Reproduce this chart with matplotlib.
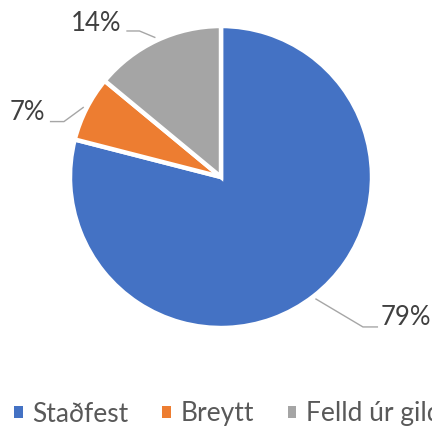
import numpy as np
import matplotlib.pyplot as plt
from matplotlib.patches import Patch

CATEGORIES = ["Staðfest", "Breytt", "Felld úr gildi"]
SHARES = [79, 7, 14]
COLORS = ["#4472C4", "#ED7D31", "#A5A5A5"]

# label layout (data units, pie radius = 1): text centre, elbow of leader line
LABEL_POS = [(1.225, -0.93), (-1.285, 0.43), (-0.825, 1.015)]
ELBOW = [(0.94, -0.993), (-1.04, 0.367), (-0.54, 0.967)]
LINE_END = [(1.04, -0.993), (-1.133, 0.367), (-0.627, 0.967)]

plt.rcParams["font.family"] = ["Lato", "DejaVu Sans"]

fig = plt.figure(figsize=(4.32, 4.28), dpi=100)
cx, cy, r = 221 / 432, 1 - 177 / 428, 151
ax = fig.add_axes([cx - r / 432, cy - r / 428, 2 * r / 432, 2 * r / 428])

wedges, _ = ax.pie(
    SHARES,
    colors=COLORS,
    startangle=90,
    counterclock=False,
    radius=1,
    wedgeprops=dict(edgecolor="white", linewidth=3.2),
)
ax.set_xlim(-1, 1)
ax.set_ylim(-1, 1)
ax.set_aspect("equal")
ax.axis("off")

for w, share, pos, elbow, end in zip(wedges, SHARES, LABEL_POS, ELBOW, LINE_END):
    mid = np.deg2rad((w.theta1 + w.theta2) / 2)
    start = (1.02 * np.cos(mid), 1.02 * np.sin(mid))
    xs = [start[0], elbow[0], end[0]]
    ys = [start[1], elbow[1], end[1]]
    ax.plot(xs, ys, color="#A6A6A6", lw=1.0, clip_on=False, solid_capstyle="butt")
    ax.text(pos[0], pos[1], f"{share}%", ha="center", va="center",
            fontsize=18.5, color="#404040", clip_on=False)

# legend runs past the right edge, as in the original
handles = [Patch(facecolor=c, edgecolor="none") for c in COLORS]
fig.legend(
    handles,
    CATEGORIES,
    loc="center left",
    bbox_to_anchor=(0.033, 1 - 414 / 428),
    ncol=3,
    frameon=False,
    fontsize=19,
    labelcolor="#595959",
    handlelength=0.32,
    handleheight=0.32,
    handletextpad=0.35,
    columnspacing=1.3,
    borderpad=0,
    borderaxespad=0,
)

fig.savefig("out.png", dpi=100)
